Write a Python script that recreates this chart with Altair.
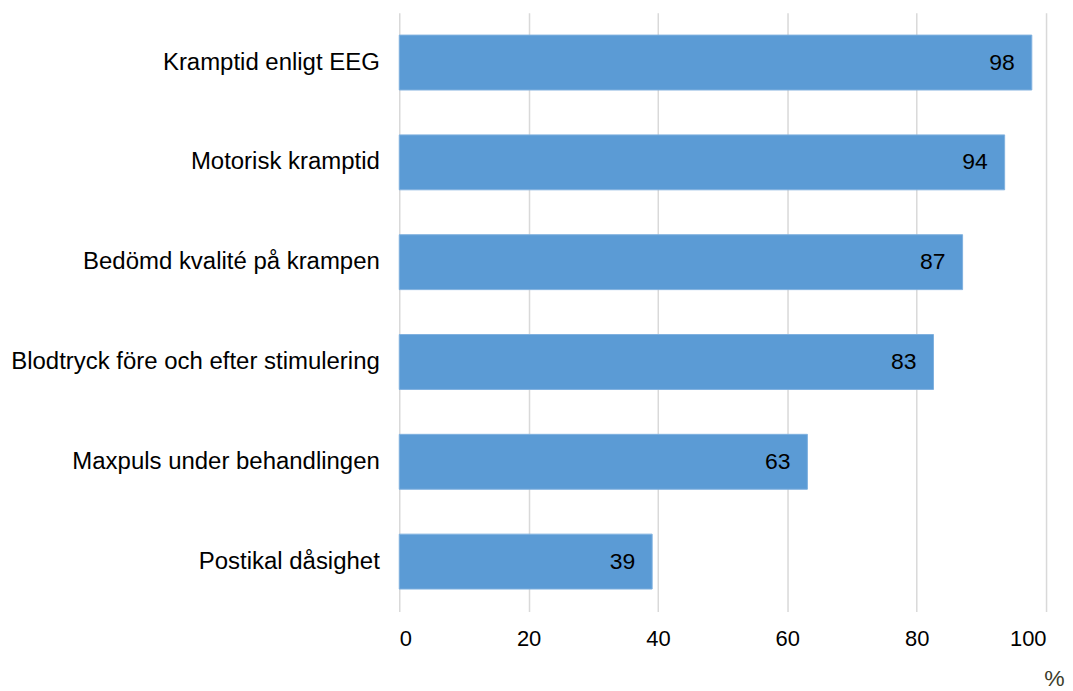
import altair as alt
import pandas as pd

categories = [
    "Kramptid enligt EEG",
    "Motorisk kramptid",
    "Bedömd kvalité på krampen",
    "Blodtryck före och efter stimulering",
    "Maxpuls under behandlingen",
    "Postikal dåsighet",
]
values = [98, 94, 87, 83, 63, 39]
bar_ends = [97.8, 93.6, 87.1, 82.6, 63.1, 39.1]

df = pd.DataFrame({"cat": categories, "label": values, "val": bar_ends})

FONT = "Liberation Sans"

y_enc = alt.Y(
    "cat:N",
    sort=categories,
    scale=alt.Scale(paddingInner=0.45, paddingOuter=0.225),
    axis=alt.Axis(
        title=None, ticks=False, domain=False, grid=False,
        labelFont=FONT, labelFontSize=24, labelColor="#000000",
        labelPadding=20, minExtent=392, maxExtent=392, labelLimit=400,
    ),
)

x_enc = alt.X(
    "val:Q",
    scale=alt.Scale(domain=[0, 100], nice=False),
    axis=alt.Axis(
        values=[0, 20, 40, 60, 80, 100], ticks=False, domain=False,
        grid=True, gridColor="#d9d9d9", gridWidth=1.5,
        labelFont=FONT, labelFontSize=22, labelColor="#000000", labelPadding=17,
        title="%", titleFont=FONT, titleFontSize=23, titleFontWeight="normal",
        titleColor="#3d3d2b", titleX=656, titleY=67, titleAlign="center",
        titleBaseline="middle",
    ),
)

bars = alt.Chart(df).mark_bar(color="#5b9bd5", stroke="#7fb1df", strokeWidth=1).encode(
    y=y_enc, x=x_enc
)

text = alt.Chart(df).mark_text(
    align="right", baseline="middle", dx=-17, font=FONT, fontSize=23, color="#000000"
).encode(
    y=alt.Y("cat:N", sort=categories),
    x=alt.X("val:Q"),
    text=alt.Text("label:Q"),
)

chart = (bars + text).properties(
    width=648,
    height=600,
    padding={"top": 4, "left": 0, "right": 0, "bottom": 0},
).configure_view(stroke=None)

chart.save("out.html", embed_options={"renderer": "svg", "actions": False})
